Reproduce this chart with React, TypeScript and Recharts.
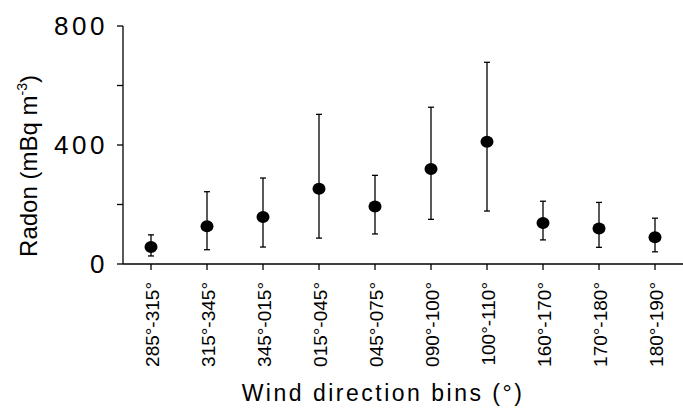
import { LineChart, Line, XAxis, YAxis, ErrorBar } from 'recharts';

const bins = [
  '285°-315°',
  '315°-345°',
  '345°-015°',
  '015°-045°',
  '045°-075°',
  '090°-100°',
  '100°-110°',
  '160°-170°',
  '170°-180°',
  '180°-190°',
];
// mean radon and the ends of each error bar (mBq m-3)
const radonMean = [57, 127, 158, 253, 193, 319, 411, 138, 119, 90];
const radonLow = [27, 48, 57, 87, 101, 150, 178, 81, 56, 41];
const radonHigh = [98, 243, 289, 503, 298, 527, 678, 211, 207, 154];
const yTicks = [0, 200, 400, 600, 800];
const yLabelled = [0, 400, 800];

const rows = bins.map((bin, i) => ({
  bin,
  radon: radonMean[i],
  err: [radonMean[i] - radonLow[i], radonHigh[i] - radonMean[i]],
}));

const font = '"Liberation Sans", Arial, Helvetica, sans-serif';

const BinTick = (props: any) => {
  const { x, y, payload } = props;
  return (
    <text
      transform={`translate(${x + 8},${y + 10}) rotate(-90)`}
      textAnchor="end"
      fontSize={19}
      fontFamily={font}
      fill="#000"
    >
      {payload.value}
    </text>
  );
};

const Dot = (props: any) => {
  const { cx, cy } = props;
  if (cx == null || cy == null) return null;
  return <ellipse cx={cx} cy={cy} rx={6.5} ry={6} fill="#000" />;
};

export default function App() {
  return (
    <div style={{ position: 'absolute', left: 0, top: 0, background: '#fff' }}>
      <LineChart
        width={683}
        height={409}
        data={rows}
        margin={{ top: 26, right: 0, bottom: 0, left: 0 }}
      >
        <XAxis
          dataKey="bin"
          interval={0}
          height={145}
          padding={{ left: 28, right: 28 }}
          tickSize={6}
          tick={<BinTick />}
          stroke="#000"
          strokeWidth={1.3}
          label={{
            content: ({ viewBox }: any) => (
              <text
                x={viewBox.x + viewBox.width / 2 - 20}
                y={401}
                textAnchor="middle"
                fontSize={23}
                letterSpacing={2.5}
                fontFamily={font}
                fill="#000"
              >
                Wind direction bins (°)
              </text>
            ),
          }}
        />
        <YAxis
          domain={[0, 800]}
          ticks={yTicks}
          width={123}
          tickSize={6}
          tickMargin={9}
          stroke="#000"
          strokeWidth={1.3}
          tickFormatter={(v) => (yLabelled.includes(v) ? String(v) : '')}
          tick={{ fontSize: 26, fontFamily: font, fill: '#000', letterSpacing: 3.5 }}
          label={{
            content: () => (
              <text
                transform="translate(37,166) rotate(-90)"
                textAnchor="middle"
                fontSize={24}
                fontFamily={font}
                fill="#000"
              >
                Radon (mBq m
                <tspan dy={-10} fontSize={14}>
                  -3
                </tspan>
                <tspan dy={10}>)</tspan>
              </text>
            ),
          }}
        />
        <Line
          dataKey="radon"
          stroke="none"
          dot={<Dot />}
          activeDot={false}
          isAnimationActive={false}
        >
          <ErrorBar dataKey="err" width={3} stroke="#000" strokeWidth={1.3} />
        </Line>
      </LineChart>
    </div>
  );
}
